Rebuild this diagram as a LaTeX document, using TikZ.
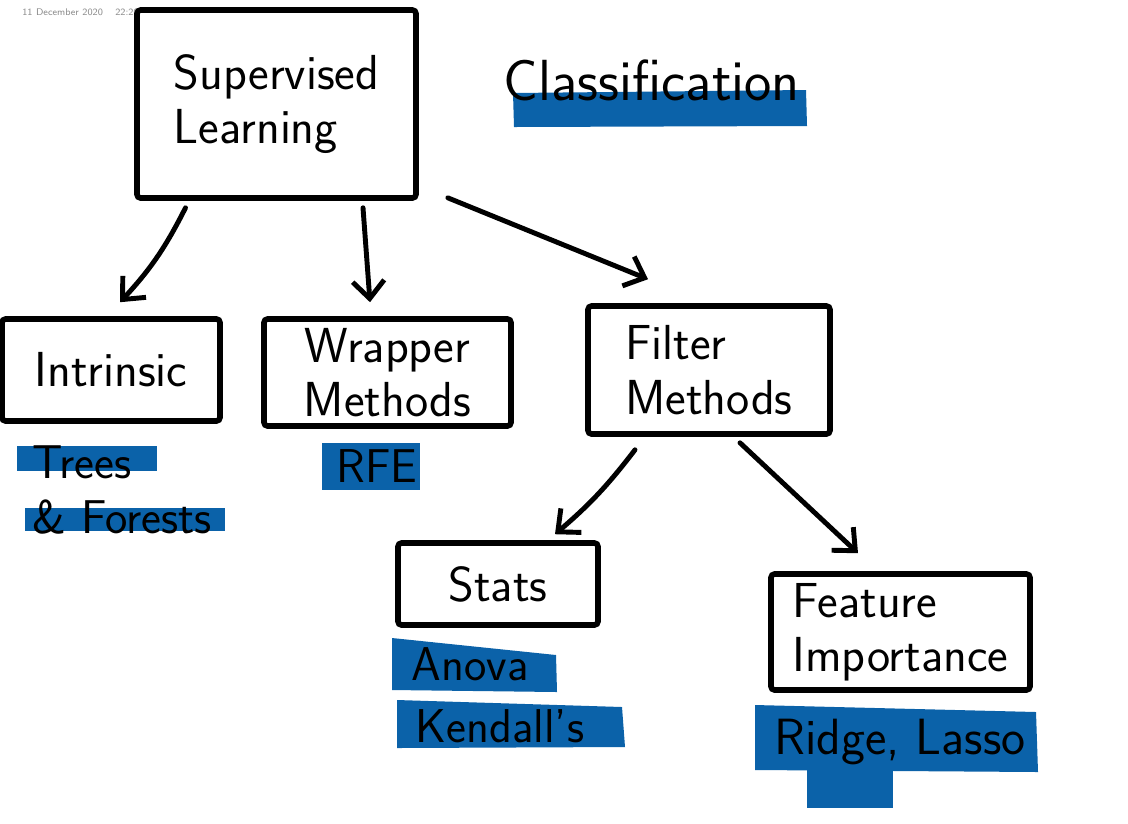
\documentclass[tikz,border=0pt]{standalone}
\usepackage{tikz}
\usetikzlibrary{calc, arrows.meta}
\definecolor{markBlue}{HTML}{0B62A9}
\definecolor{stampGray}{HTML}{8C8C8C}

\begin{document}
\begin{tikzpicture}[x=0.02cm, y=-0.02cm,
    box/.style={draw, line width=3.2pt, rounded corners=2pt, align=left,
        font=\sffamily\fontsize{28}{31}\selectfont},
    arr/.style={line width=2.8pt, line cap=round,
        -{Straight Barb[length=10pt, width=18pt, line width=2.8pt]}},
    hilite/.style={fill=markBlue},
    lbl/.style={inner sep=0pt, align=left, font=\sffamily\fontsize{27}{31}\selectfont}]
    \useasboundingbox[fill=white] (0,0) rectangle (1128,823);

    % date stamp
    \node[anchor=west, inner sep=0pt, text=stampGray, font=\sffamily\fontsize{5.5}{6}\selectfont] (date) at (22,12) {11 December 2020};
    \node[anchor=west, inner sep=0pt, text=stampGray, font=\sffamily\fontsize{5.5}{6}\selectfont] (time) at (115,12) {22:20};

    % title
    \fill[hilite] (513,93) -- (806,90) -- (807,126) -- (514,127) -- cycle;
    \node[lbl, font=\sffamily\fontsize{33}{36}\selectfont] (title) at (652,80) {Classification};

    % boxes
    \node[box, minimum width=5.58cm, minimum height=3.76cm] (sup) at (276.5,104) {Supervised\\Learning};
    \node[box, minimum width=4.36cm, minimum height=2.04cm] (intr) at (111,370) {Intrinsic};
    \node[box, align=center, minimum width=4.94cm, minimum height=2.14cm] (wrap) at (387.5,372.5) {Wrapper\\Methods};
    \node[box, minimum width=4.84cm, minimum height=2.56cm] (filt) at (709,370) {Filter\\Methods};
    \node[box, minimum width=4.00cm, minimum height=1.64cm] (stat) at (498,584) {Stats};
    \node[box, minimum width=5.18cm, minimum height=2.32cm] (feat) at (900.5,632) {Feature\\Importance};

    % arrows
    \draw[arr] ($(sup.south)+(-91,7)$) to[bend left=8] ($(intr.north)+(9,-14)$);
    \draw[arr] ($(sup.south)+(86.5,7)$) -- ($(wrap.north)+(-17.5,-14)$);
    \draw[arr] ($(sup.south east)+(29,-3)$) -- ($(filt.north)+(-61,-24)$);
    \draw[arr] ($(filt.south)+(-74,13)$) to[bend left=6] ($(stat.north)+(57,-6)$);
    \draw[arr] ($(filt.south)+(31,6)$) -- ($(feat.north)+(-42.5,-18)$);

    % highlighted examples
    \fill[hilite] (17,446) rectangle (157,471);
    \fill[hilite] (25,508) rectangle (225,531);
    \node[lbl] (trees) at (122,490) {Trees\\\& Forests};

    \fill[hilite] (322,443) rectangle (420,490);
    \node[lbl] (rfe) at (377,466) {RFE};

    \fill[hilite] (392,638) -- (556,655) -- (557,692) -- (392,690) -- cycle;
    \fill[hilite] (397,700) -- (622,707) -- (625,747) -- (397,748) -- cycle;
    \node[lbl] (anova) at (470,664) {Anova};
    \node[lbl] (kend) at (500,726) {Kendall's};

    \fill[hilite] (755,705) -- (1036,712) -- (1038,772) -- (755,770) -- cycle;
    \fill[hilite] (807,770) rectangle (893,808);
    \node[lbl, font=\sffamily\fontsize{29}{31}\selectfont] (ridge) at (900,742) {Ridge, Lasso};
\end{tikzpicture}
\end{document}
